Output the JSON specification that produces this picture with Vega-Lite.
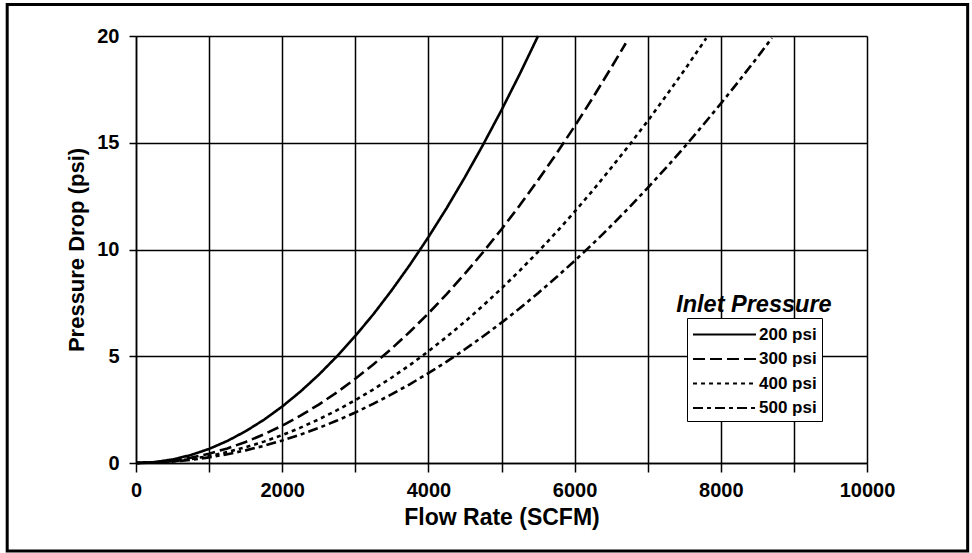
{
  "$schema": "https://vega.github.io/schema/vega-lite/v6.json",
  "autosize": {"type": "none"},
  "width": 731,
  "height": 427,
  "padding": {"left": 136, "top": 36, "right": 105, "bottom": 90},
  "background": "white",
  "config": {
    "font": "Liberation Sans",
    "view": {"stroke": null}
  },
  "datasets": {
    "curves": [
      {"flow": 0, "drop": 0, "p": "200 psi"},
      {"flow": 250, "drop": 0.041, "p": "200 psi"},
      {"flow": 500, "drop": 0.165, "p": "200 psi"},
      {"flow": 750, "drop": 0.372, "p": "200 psi"},
      {"flow": 1000, "drop": 0.661, "p": "200 psi"},
      {"flow": 1250, "drop": 1.033, "p": "200 psi"},
      {"flow": 1500, "drop": 1.488, "p": "200 psi"},
      {"flow": 1750, "drop": 2.025, "p": "200 psi"},
      {"flow": 2000, "drop": 2.645, "p": "200 psi"},
      {"flow": 2250, "drop": 3.347, "p": "200 psi"},
      {"flow": 2500, "drop": 4.132, "p": "200 psi"},
      {"flow": 2750, "drop": 5.0, "p": "200 psi"},
      {"flow": 3000, "drop": 5.95, "p": "200 psi"},
      {"flow": 3250, "drop": 6.98, "p": "200 psi"},
      {"flow": 3500, "drop": 8.1, "p": "200 psi"},
      {"flow": 3750, "drop": 9.3, "p": "200 psi"},
      {"flow": 4000, "drop": 10.58, "p": "200 psi"},
      {"flow": 4250, "drop": 11.94, "p": "200 psi"},
      {"flow": 4500, "drop": 13.39, "p": "200 psi"},
      {"flow": 4750, "drop": 14.92, "p": "200 psi"},
      {"flow": 5000, "drop": 16.53, "p": "200 psi"},
      {"flow": 5250, "drop": 18.22, "p": "200 psi"},
      {"flow": 5500, "drop": 20.0, "p": "200 psi"},

      {"flow": 0, "drop": 0, "p": "300 psi"},
      {"flow": 250, "drop": 0.027, "p": "300 psi"},
      {"flow": 500, "drop": 0.11, "p": "300 psi"},
      {"flow": 750, "drop": 0.246, "p": "300 psi"},
      {"flow": 1000, "drop": 0.438, "p": "300 psi"},
      {"flow": 1250, "drop": 0.684, "p": "300 psi"},
      {"flow": 1500, "drop": 0.986, "p": "300 psi"},
      {"flow": 1750, "drop": 1.341, "p": "300 psi"},
      {"flow": 2000, "drop": 1.752, "p": "300 psi"},
      {"flow": 2250, "drop": 2.217, "p": "300 psi"},
      {"flow": 2500, "drop": 2.738, "p": "300 psi"},
      {"flow": 2750, "drop": 3.312, "p": "300 psi"},
      {"flow": 3000, "drop": 3.942, "p": "300 psi"},
      {"flow": 3250, "drop": 4.626, "p": "300 psi"},
      {"flow": 3500, "drop": 5.366, "p": "300 psi"},
      {"flow": 3750, "drop": 6.159, "p": "300 psi"},
      {"flow": 4000, "drop": 7.008, "p": "300 psi"},
      {"flow": 4250, "drop": 7.911, "p": "300 psi"},
      {"flow": 4500, "drop": 8.87, "p": "300 psi"},
      {"flow": 4750, "drop": 9.882, "p": "300 psi"},
      {"flow": 5000, "drop": 10.95, "p": "300 psi"},
      {"flow": 5250, "drop": 12.07, "p": "300 psi"},
      {"flow": 5500, "drop": 13.25, "p": "300 psi"},
      {"flow": 5750, "drop": 14.48, "p": "300 psi"},
      {"flow": 6000, "drop": 15.77, "p": "300 psi"},
      {"flow": 6250, "drop": 17.11, "p": "300 psi"},
      {"flow": 6500, "drop": 18.51, "p": "300 psi"},
      {"flow": 6700, "drop": 19.66, "p": "300 psi"},

      {"flow": 0, "drop": 0, "p": "400 psi"},
      {"flow": 250, "drop": 0.02, "p": "400 psi"},
      {"flow": 500, "drop": 0.082, "p": "400 psi"},
      {"flow": 750, "drop": 0.184, "p": "400 psi"},
      {"flow": 1000, "drop": 0.327, "p": "400 psi"},
      {"flow": 1250, "drop": 0.511, "p": "400 psi"},
      {"flow": 1500, "drop": 0.736, "p": "400 psi"},
      {"flow": 1750, "drop": 1.001, "p": "400 psi"},
      {"flow": 2000, "drop": 1.308, "p": "400 psi"},
      {"flow": 2250, "drop": 1.655, "p": "400 psi"},
      {"flow": 2500, "drop": 2.044, "p": "400 psi"},
      {"flow": 2750, "drop": 2.473, "p": "400 psi"},
      {"flow": 3000, "drop": 2.943, "p": "400 psi"},
      {"flow": 3250, "drop": 3.454, "p": "400 psi"},
      {"flow": 3500, "drop": 4.006, "p": "400 psi"},
      {"flow": 3750, "drop": 4.598, "p": "400 psi"},
      {"flow": 4000, "drop": 5.232, "p": "400 psi"},
      {"flow": 4250, "drop": 5.907, "p": "400 psi"},
      {"flow": 4500, "drop": 6.622, "p": "400 psi"},
      {"flow": 4750, "drop": 7.378, "p": "400 psi"},
      {"flow": 5000, "drop": 8.175, "p": "400 psi"},
      {"flow": 5250, "drop": 9.013, "p": "400 psi"},
      {"flow": 5500, "drop": 9.892, "p": "400 psi"},
      {"flow": 5750, "drop": 10.81, "p": "400 psi"},
      {"flow": 6000, "drop": 11.77, "p": "400 psi"},
      {"flow": 6250, "drop": 12.77, "p": "400 psi"},
      {"flow": 6500, "drop": 13.82, "p": "400 psi"},
      {"flow": 6750, "drop": 14.9, "p": "400 psi"},
      {"flow": 7000, "drop": 16.02, "p": "400 psi"},
      {"flow": 7250, "drop": 17.19, "p": "400 psi"},
      {"flow": 7500, "drop": 18.39, "p": "400 psi"},
      {"flow": 7800, "drop": 19.89, "p": "400 psi"},

      {"flow": 0, "drop": 0, "p": "500 psi"},
      {"flow": 250, "drop": 0.016, "p": "500 psi"},
      {"flow": 500, "drop": 0.066, "p": "500 psi"},
      {"flow": 750, "drop": 0.148, "p": "500 psi"},
      {"flow": 1000, "drop": 0.263, "p": "500 psi"},
      {"flow": 1250, "drop": 0.411, "p": "500 psi"},
      {"flow": 1500, "drop": 0.592, "p": "500 psi"},
      {"flow": 1750, "drop": 0.805, "p": "500 psi"},
      {"flow": 2000, "drop": 1.052, "p": "500 psi"},
      {"flow": 2250, "drop": 1.331, "p": "500 psi"},
      {"flow": 2500, "drop": 1.644, "p": "500 psi"},
      {"flow": 2750, "drop": 1.989, "p": "500 psi"},
      {"flow": 3000, "drop": 2.367, "p": "500 psi"},
      {"flow": 3250, "drop": 2.778, "p": "500 psi"},
      {"flow": 3500, "drop": 3.222, "p": "500 psi"},
      {"flow": 3750, "drop": 3.698, "p": "500 psi"},
      {"flow": 4000, "drop": 4.208, "p": "500 psi"},
      {"flow": 4250, "drop": 4.75, "p": "500 psi"},
      {"flow": 4500, "drop": 5.326, "p": "500 psi"},
      {"flow": 4750, "drop": 5.934, "p": "500 psi"},
      {"flow": 5000, "drop": 6.575, "p": "500 psi"},
      {"flow": 5250, "drop": 7.249, "p": "500 psi"},
      {"flow": 5500, "drop": 7.956, "p": "500 psi"},
      {"flow": 5750, "drop": 8.696, "p": "500 psi"},
      {"flow": 6000, "drop": 9.468, "p": "500 psi"},
      {"flow": 6250, "drop": 10.27, "p": "500 psi"},
      {"flow": 6500, "drop": 11.11, "p": "500 psi"},
      {"flow": 6750, "drop": 11.98, "p": "500 psi"},
      {"flow": 7000, "drop": 12.89, "p": "500 psi"},
      {"flow": 7250, "drop": 13.82, "p": "500 psi"},
      {"flow": 7500, "drop": 14.79, "p": "500 psi"},
      {"flow": 7750, "drop": 15.8, "p": "500 psi"},
      {"flow": 8000, "drop": 16.83, "p": "500 psi"},
      {"flow": 8250, "drop": 17.9, "p": "500 psi"},
      {"flow": 8500, "drop": 19.0, "p": "500 psi"},
      {"flow": 8700, "drop": 19.91, "p": "500 psi"}
    ],
    "frame": [{"part": "border"}],
    "legendTitle": [{"label": "Inlet Pressure"}]
  },
  "layer": [
    {
      "data": {"name": "frame"},
      "mark": {"type": "rect", "filled": false, "stroke": "black", "strokeWidth": 3, "clip": false},
      "encoding": {
        "x": {"datum": -1762, "type": "quantitative"},
        "x2": {"datum": 11377},
        "y": {"datum": 21.47, "type": "quantitative"},
        "y2": {"datum": -4.12}
      }
    },
    {
      "data": {"name": "curves"},
      "mark": {"type": "line", "color": "black", "strokeWidth": 2.6},
      "encoding": {
        "x": {
          "field": "flow",
          "type": "quantitative",
          "scale": {"domain": [0, 10000], "nice": false, "zero": false},
          "axis": {
            "title": "Flow Rate (SCFM)",
            "values": [0, 500, 1000, 1500, 2000, 2500, 3000, 3500, 4000, 4500, 5000, 5500, 6000, 6500, 7000, 7500, 8000, 8500, 9000, 9500, 10000],
            "format": "d",
            "labelExpr": "datum.value % 2000 === 0 ? datum.label : ''",
            "labelOverlap": false,
            "labelFlush": false,
            "grid": true,
            "gridColor": "black",
            "gridOpacity": 1,
            "gridWidth": 1.5,
            "domainColor": "black",
            "domainWidth": 1.5,
            "tickColor": "black",
            "tickWidth": 1.5,
            "tickSize": 9,
            "tickOpacity": {"condition": {"test": "datum.value % 1000 === 0", "value": 1}, "value": 0},
            "labelFont": "Liberation Sans",
            "labelFontSize": 20,
            "labelFontWeight": "bold",
            "labelColor": "black",
            "labelPadding": 8,
            "titleFont": "Liberation Sans",
            "titleFontSize": 23,
            "titleFontWeight": "bold",
            "titleColor": "black",
            "titlePadding": 6
          }
        },
        "y": {
          "field": "drop",
          "type": "quantitative",
          "scale": {"domain": [0, 20], "nice": false},
          "axis": {
            "title": "Pressure Drop (psi)",
            "values": [0, 5, 10, 15, 20],
            "labelFlush": false,
            "labelOverlap": false,
            "grid": true,
            "gridColor": "black",
            "gridOpacity": 1,
            "gridWidth": 1.5,
            "domainColor": "black",
            "domainWidth": 1.5,
            "tickColor": "black",
            "tickWidth": 1.5,
            "tickSize": 7,
            "labelFont": "Liberation Sans",
            "labelFontSize": 20,
            "labelFontWeight": "bold",
            "labelColor": "black",
            "labelPadding": 10,
            "titleFont": "Liberation Sans",
            "titleFontSize": 22,
            "titleFontWeight": "bold",
            "titleColor": "black",
            "titlePadding": 8
          }
        },
        "strokeDash": {
          "field": "p",
          "type": "nominal",
          "scale": {
            "domain": ["200 psi", "300 psi", "400 psi", "500 psi"],
            "range": [[1, 0], [12, 5], [4, 4], [10, 4, 4, 4]]
          },
          "legend": {
            "title": null,
            "orient": "none",
            "legendX": 551,
            "legendY": 282,
            "fillColor": "white",
            "strokeColor": "black",
            "padding": 5,
            "symbolType": "M-1,0H5",
            "symbolSize": 441,
            "symbolStrokeWidth": 2,
            "symbolStrokeColor": "black",
            "symbolFillColor": "transparent",
            "labelOffset": 44,
            "labelFont": "Liberation Sans",
            "labelFontSize": 17,
            "labelFontWeight": "bold",
            "labelColor": "black",
            "rowPadding": 4.5
          }
        }
      }
    },
    {
      "data": {"name": "legendTitle"},
      "mark": {"type": "text", "align": "left", "baseline": "alphabetic", "font": "Liberation Sans", "fontSize": 23.5, "fontWeight": "bold", "fontStyle": "italic", "color": "black"},
      "encoding": {
        "x": {"datum": 7390, "type": "quantitative"},
        "y": {"datum": 7.09, "type": "quantitative"},
        "text": {"field": "label"}
      }
    }
  ]
}
